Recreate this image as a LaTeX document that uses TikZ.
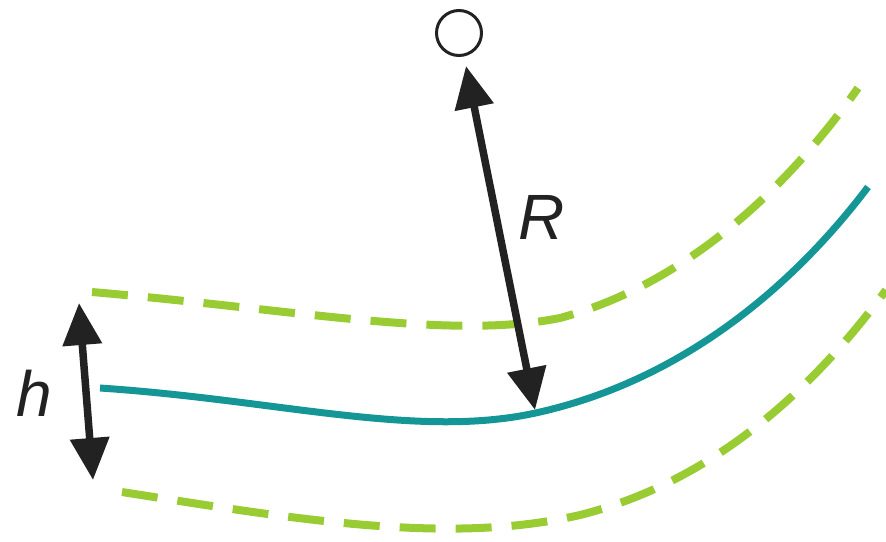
\documentclass[tikz,border=0pt]{standalone}
\usepackage{fontspec}
\setmainfont{Liberation Sans}
\usetikzlibrary{arrows.meta}
\definecolor{teal1}{RGB}{20,150,150}
\definecolor{green1}{RGB}{153,204,51}
\definecolor{dark1}{RGB}{34,34,34}
\tikzset{
  centre/.style={circle,draw=dark1,line width=3pt,minimum size=45pt,inner sep=0pt},
  dim/.style={draw=dark1,line width=7.5pt,{Triangle[length=42pt,width=38pt]}-{Triangle[length=42pt,width=38pt]}},
  lbl/.style={font=\fontsize{64}{70}\selectfont\itshape,text=dark1,inner sep=0pt},
  mid/.style={draw=teal1,line width=7pt},
  offs/.style={draw=green1,line width=8pt,dash pattern=on 36pt off 20pt}
}
\begin{document}
\begin{tikzpicture}[x=1pt,y=-1pt]
\useasboundingbox (0,0) rectangle (886,541);
\node[centre] (c) at (459,33) {};
\coordinate (rt) at (466,66);
\coordinate (rb) at (535,410);
\coordinate (ht) at (79,303);
\coordinate (hb) at (93,480);
\draw[offs] (92,292) .. controls (300,310) and (450,340) .. (560,318) .. controls (700,280) and (800,170) .. (858,88);
\draw[offs] (122,492) .. controls (300,520) and (450,545) .. (580,515) .. controls (720,480) and (820,380) .. (886,290);
\draw[mid] (100,388) .. controls (280,400) and (420,440) .. (540,412) .. controls (680,380) and (790,290) .. (868,187);
\draw[dim] (rt) -- (rb);
\draw[dim] (ht) -- (hb);
\node[lbl] (R) at (542,217) {R};
\node[lbl] (h) at (34,393) {h};
\end{tikzpicture}
\end{document}
